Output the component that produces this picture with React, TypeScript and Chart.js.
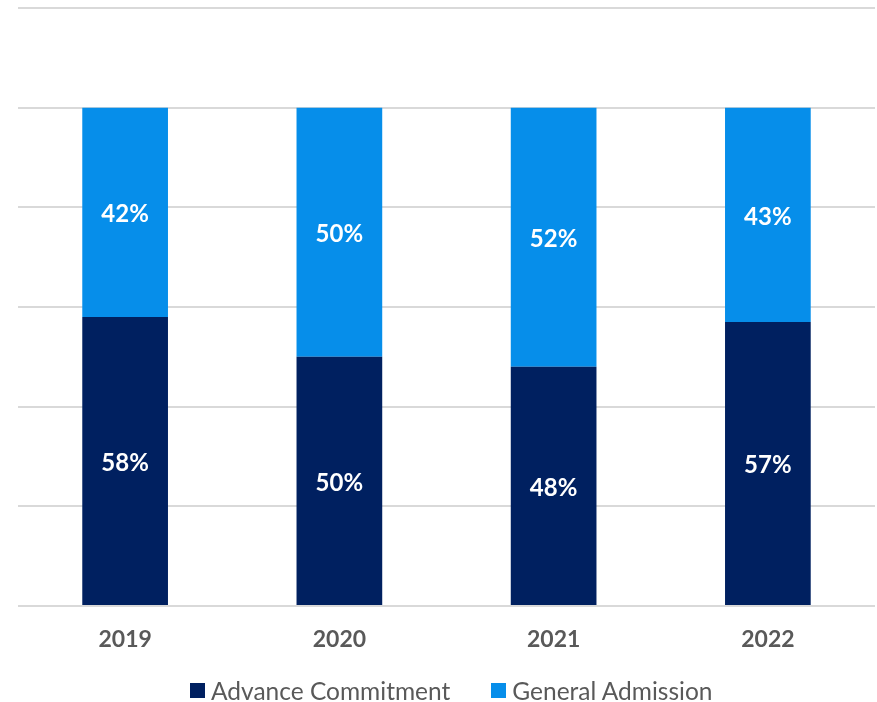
import React, { useEffect, useRef } from "react";
import { Chart, registerables } from "chart.js";

Chart.register(...registerables);

const categories = ["2019", "2020", "2021", "2022"];
const seriesNames = ["Advance Commitment", "General Admission"];
const advanceCommitment = [58, 50, 48, 57];
const generalAdmission = [42, 50, 52, 43];
const yTicks = [0, 20, 40, 60, 80, 100, 120];
const colors = ["#002060", "#068EEA"];

const FONT = "Lato, 'Open Sans', sans-serif";

const segmentLabels = {
  id: "segmentLabels",
  afterDatasetsDraw(chart: any) {
    const ctx = chart.ctx;
    ctx.save();
    ctx.fillStyle = "#ffffff";
    ctx.font = `bold 24px ${FONT}`;
    ctx.textAlign = "center";
    ctx.textBaseline = "middle";
    chart.data.datasets.forEach((ds: any, di: number) => {
      const meta = chart.getDatasetMeta(di);
      meta.data.forEach((bar: any, i: number) => {
        const top = Math.min(bar.y, bar.base);
        const bottom = Math.max(bar.y, bar.base);
        ctx.fillText(ds.data[i] + "%", bar.x, (top + bottom) / 2 + 2);
      });
    });
    ctx.restore();
  },
};

export default function App() {
  const ref = useRef<HTMLCanvasElement | null>(null);
  useEffect(() => {
    document.body.style.margin = "0";
    const chart = new Chart(ref.current as HTMLCanvasElement, {
      type: "bar",
      data: {
        labels: categories,
        datasets: [
          {
            label: seriesNames[0],
            data: advanceCommitment,
            backgroundColor: colors[0],
            categoryPercentage: 1,
            barPercentage: 0.4,
          },
          {
            label: seriesNames[1],
            data: generalAdmission,
            backgroundColor: colors[1],
            categoryPercentage: 1,
            barPercentage: 0.4,
          },
        ],
      },
      options: {
        animation: false,
        responsive: false,
        maintainAspectRatio: false,
        layout: { padding: { left: 18, right: 2, top: 8, bottom: 0 } },
        scales: {
          x: {
            stacked: true,
            grid: { display: false },
            border: { display: false },
            afterFit: (scale: any) => {
              scale.height = 96;
            },
            ticks: {
              color: "#595959",
              font: { family: FONT, size: 23, weight: "bold" },
              padding: 12,
            },
          },
          y: {
            stacked: true,
            min: 0,
            max: 120,
            afterBuildTicks: (scale: any) => {
              scale.ticks = yTicks.map((v) => ({ value: v }));
            },
            afterFit: (scale: any) => {
              scale.width = 0;
            },
            ticks: { display: false },
            grid: { color: "#d9d9d9", lineWidth: 2, drawTicks: false },
            border: { display: false },
          },
        },
        plugins: {
          legend: { display: false },
          tooltip: { enabled: false },
        },
      },
      plugins: [segmentLabels],
    });
    return () => chart.destroy();
  }, []);
  return (
    <div style={{ position: "relative", width: 877, height: 702 }}>
      <canvas ref={ref} width={877} height={702} style={{ display: "block" }} />
      <div
        style={{
          position: "absolute",
          left: 190,
          top: 674,
          height: 32,
          display: "flex",
          alignItems: "center",
          fontFamily: FONT,
          fontSize: 24.5,
          color: "#595959",
          whiteSpace: "nowrap",
        }}
      >
        {seriesNames.map((name, i) => (
          <div
            key={name}
            style={{ display: "flex", alignItems: "center", marginRight: i === 0 ? 41 : 0 }}
          >
            <span
              style={{ width: 15, height: 15, background: colors[i], display: "inline-block", marginRight: 6 }}
            />
            <span>{name}</span>
          </div>
        ))}
      </div>
    </div>
  );
}
